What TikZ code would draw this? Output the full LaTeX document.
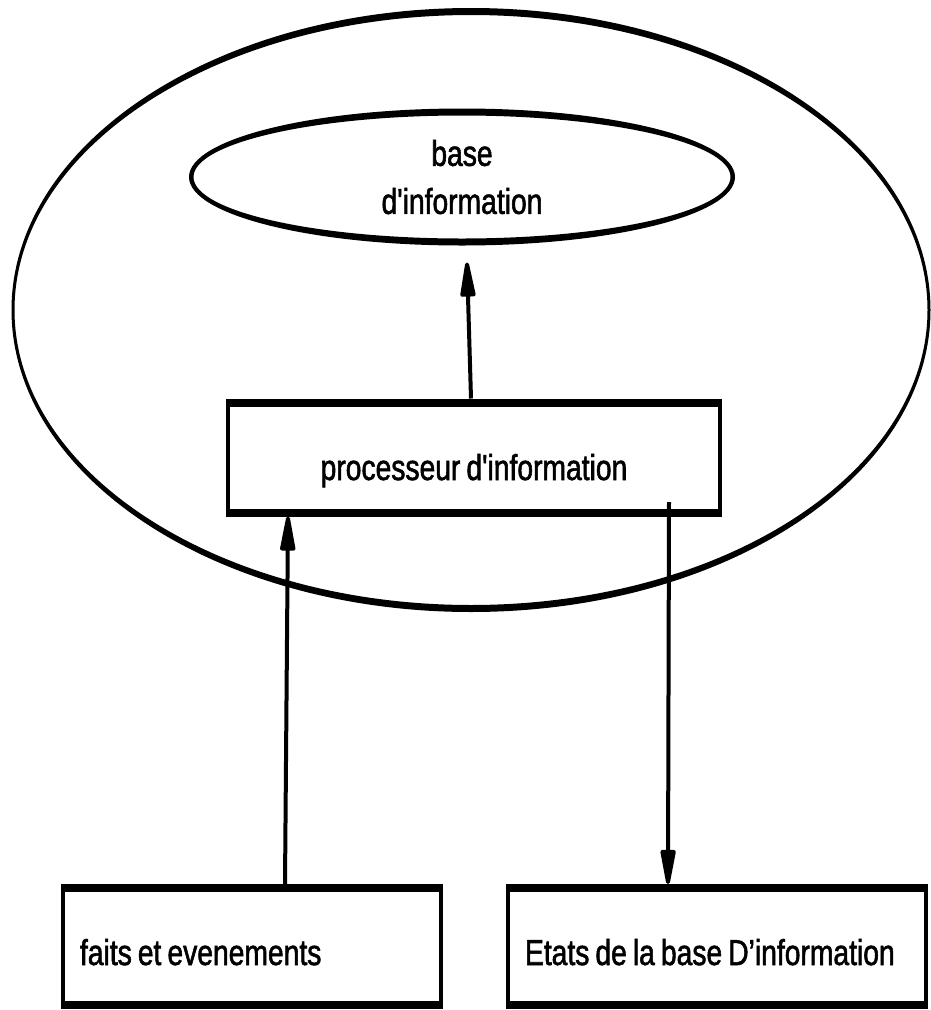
\documentclass[tikz,border=0pt]{standalone}
\usepackage{fontspec}
\newfontfamily\arialc[FakeStretch=0.785, WordSpace=0.77, FakeBold=1.5]{Liberation Sans}
\usetikzlibrary{shapes, arrows.meta}

\tikzset{
 texte/.style={font=\arialc\fontsize{36}{48}\selectfont},
 boite/.style={texte, draw, rectangle, line width=4pt, outer sep=4pt, inner sep=0pt,
  append after command={
   ([shift={(2pt,-4pt)}]\tikzlastnode.north west) edge[line width=8pt] ([shift={(-2pt,-4pt)}]\tikzlastnode.north east)
   ([shift={(2pt,4pt)}]\tikzlastnode.south west) edge[line width=8pt] ([shift={(-2pt,4pt)}]\tikzlastnode.south east)}},
 fleche/.style={line width=4pt, -{Triangle[length=44pt, width=15pt, round]}}
}

\begin{document}
\begin{tikzpicture}[x=1pt, y=-1pt]
 \useasboundingbox (0,0) rectangle (931,1010);
 % grand cadre
 \fill[even odd rule] (471,310) ellipse [x radius=459.5, y radius=302] ellipse [x radius=456.5, y radius=295];
 % base d'information
 \node[texte, ellipse, align=center, minimum width=541pt, minimum height=130pt, outer sep=3.5pt] (base) at (462,177) {base\\d'information};
 \fill[even odd rule] (base.center) ellipse [x radius=273, y radius=68.5] ellipse [x radius=268.5, y radius=61.5];
 \node[boite, minimum width=492pt, minimum height=110pt, text height=52pt, text depth=7pt] (proc) at (474,457.5) {processeur d'information};
 \node[boite, minimum width=378pt, minimum height=117pt, text width=344pt, align=flush left, inner xsep=17pt, text height=44pt, text depth=7pt] (faits) at (252,946.5) {faits et evenements};
 \node[boite, minimum width=418pt, minimum height=117pt, text width=384pt, align=flush left, inner xsep=17pt, text height=44pt, text depth=7pt] (etats) at (717,946.5) {Etats de la base D’information};
 \draw[fleche] ([xshift=-3pt]proc.north) -- ([xshift=5pt, yshift=-17pt]base.south);
 \draw[fleche] ([xshift=33pt]faits.north) -- ([xshift=64pt]proc.south west);
 \draw[fleche] ([xshift=-55pt, yshift=14.5pt]proc.south east) -- ([xshift=-49pt]etats.north);
\end{tikzpicture}
\end{document}
